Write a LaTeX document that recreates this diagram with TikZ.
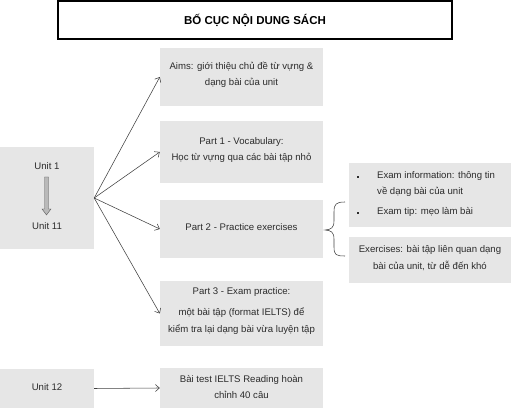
\documentclass[tikz,border=0pt]{standalone}
\usepackage{fontspec}
\setmainfont{Liberation Sans}
\usetikzlibrary{arrows.meta}
\definecolor{boxgray}{HTML}{E6E6E6}
\definecolor{txt}{HTML}{2B2B2B}
\definecolor{lin}{HTML}{404040}
\tikzset{
  graybox/.style={fill=boxgray, draw=none, inner sep=0pt, anchor=center},
  bodytext/.style={text=txt, align=center, inner sep=0pt, font=\fontsize{9.6}{16.5}\selectfont},
  conn/.style={draw=lin, line width=0.55pt, -{Straight Barb[length=4pt,width=7pt]}},
}
\begin{document}
\begin{tikzpicture}[x=1pt,y=-1pt]
\useasboundingbox (0,0) rectangle (512,411);
% title
\node[draw=black, line width=1.3pt, minimum width=394pt, minimum height=38pt, inner sep=0pt,
      font=\fontsize{11.5}{13}\selectfont\bfseries, text=black] (title) at (255,20) {BỐ CỤC NỘI DUNG SÁCH};
% middle column
\node[graybox, minimum width=163pt, minimum height=58pt] (aims) at (241.5,77) {};
\node[bodytext] (aimst) at (241.5,75) {Aims: giới thiệu chủ đề từ vựng \&\\dạng bài của unit};
\node[graybox, minimum width=163pt, minimum height=62pt] (p1) at (241.5,152) {};
\node[bodytext] (p1t) at (241.5,150) {Part 1 - Vocabulary:\\Học từ vựng qua các bài tập nhỏ};
\node[graybox, minimum width=163pt, minimum height=58pt] (p2) at (241.5,229) {};
\node[bodytext] (p2t) at (241.5,227) {Part 2 - Practice exercises};
\node[graybox, minimum width=163pt, minimum height=65pt] (p3) at (241.5,313.5) {};
\node[bodytext] (p3t) at (241.5,311) {Part 3 - Exam practice:\\[5pt]một bài tập (format IELTS) để\\kiểm tra lại dạng bài vừa luyện tập};
\node[graybox, minimum width=163pt, minimum height=40pt] (test) at (241.5,388) {};
\node[bodytext] (testt) at (241.5,387) {Bài test IELTS Reading hoàn\\chỉnh 40 câu};
% left column
\node[graybox, minimum width=94pt, minimum height=102pt] (unit) at (47,198) {};
\node[bodytext] (u1) at (47,166) {Unit 1};
\node[bodytext] (u11) at (47,226) {Unit 11};
\draw[fill=gray!55, draw=gray!70!black, line width=0.4pt]
  (44.5,177) -- (48.5,177) -- (48.5,209) -- (51,209) -- (46.5,215) -- (42,209) -- (44.5,209) -- cycle;
\node[graybox, minimum width=94pt, minimum height=39pt] (unit12) at (47,388.5) {};
\node[bodytext] (u12t) at (47,387) {Unit 12};
% right column
\node[graybox, minimum width=162pt, minimum height=64pt] (info) at (430,195) {};
\node[bodytext, align=left, anchor=west] (infot1) at (377,184) {Exam information: thông tin\\về dạng bài của unit};
\node[bodytext, align=left, anchor=west] (infot2) at (377,212) {Exam tip: mẹo làm bài};
\node[fill=txt, inner sep=0pt, minimum size=2pt] (b1) at (357.5,177) {};
\node[fill=txt, inner sep=0pt, minimum size=2pt] (b2) at (357.5,213) {};
\node[graybox, minimum width=162pt, minimum height=46pt] (exer) at (430,260) {};
\node[bodytext] (exert) at (430,258) {Exercises: bài tập liên quan dạng\\bài của unit, từ dễ đến khó};
% brace
\draw[lin, line width=0.55pt] (345,202) .. controls (336,202) and (334,204) .. (334,212) -- (334,221)
  .. controls (334,228) and (331,229.5) .. (325,230)
  .. controls (331,230.5) and (334,232) .. (334,239) -- (334,247)
  .. controls (334,255) and (336,256) .. (345,256);
% connectors
\draw[conn] (unit.east) -- (aims.west);
\draw[conn] (unit.east) -- (p1.west);
\draw[conn] (unit.east) -- (p2.west);
\draw[conn] (unit.east) -- (p3.west);
\draw[conn] (unit12.east) -- (test.west);
\end{tikzpicture}
\end{document}
